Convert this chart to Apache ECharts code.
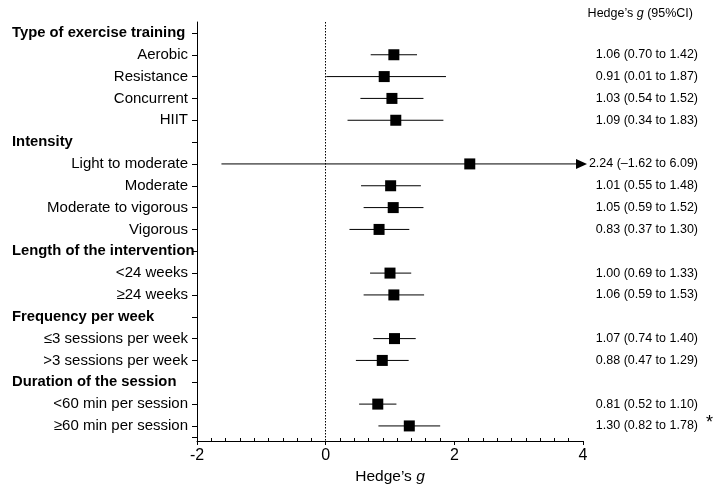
<!DOCTYPE html>
<html>
<head>
<meta charset="utf-8">
<script src="https://cdn.jsdelivr.net/npm/echarts@6/dist/echarts.min.js"></script>
<style>html,body{margin:0;padding:0;background:#fff}#c{width:714px;height:484px}</style>
</head>
<body>
<div id="c"></div>
<script>
// ---- data ----
var rowLabels = ['Type of exercise training','Aerobic','Resistance','Concurrent','HIIT',
  'Intensity','Light to moderate','Moderate','Moderate to vigorous','Vigorous',
  'Length of the intervention','<24 weeks','\u226524 weeks',
  'Frequency per week','\u22643 sessions per week','>3 sessions per week',
  'Duration of the session','<60 min per session','\u226560 min per session'];
var isHeader = [1,0,0,0,0, 1,0,0,0,0, 1,0,0, 1,0,0, 1,0,0];
var estimate = [null,1.06,0.91,1.03,1.09, null,2.24,1.01,1.05,0.83, null,1.00,1.06, null,1.07,0.88, null,0.81,1.30];
var lower    = [null,0.70,0.01,0.54,0.34, null,-1.62,0.55,0.59,0.37, null,0.69,0.59, null,0.74,0.47, null,0.52,0.82];
var upper    = [null,1.42,1.87,1.52,1.83, null,6.09,1.48,1.52,1.30, null,1.33,1.53, null,1.40,1.29, null,1.10,1.78];
var xTicks = [-2, 0, 2, 4];
var significant = [0,0,0,0,0, 0,0,0,0,0, 0,0,0, 0,0,0, 0,0,1];

var FONT = '"Liberation Sans", Arial, sans-serif';
function fmt(v){ var s = Math.abs(v).toFixed(2); return (v < 0 ? '\u2013' : '') + s; }

var rowIdx = rowLabels.map(function(_, i){ return i; });
var tickIdx = rowIdx.concat([rowIdx.length - 0.5]);
var ciText = rowLabels.map(function(_, i){
  return estimate[i] == null ? '' : fmt(estimate[i]) + ' (' + fmt(lower[i]) + ' to ' + fmt(upper[i]) + ')';
});
var seriesData = [];
for (var i = 0; i < rowLabels.length; i++) {
  if (estimate[i] != null) seriesData.push([i, estimate[i], lower[i], upper[i]]);
}
var xMin = xTicks[0], xMax = xTicks[xTicks.length - 1];

var chart = echarts.init(document.getElementById('c'), null, {renderer: 'canvas'});
var option = {
  animation: false,
  backgroundColor: '#fff',
  textStyle: {fontFamily: FONT, color: '#000'},
  title: {
    text: '{a|Hedge\u2019s }{i|g}{a| (95%CI)}',
    right: 16, top: 2,
    textStyle: {fontWeight: 'normal', rich: {
      a: {fontFamily: FONT, fontSize: 12.5, color: '#000', fontWeight: 'normal'},
      i: {fontFamily: FONT, fontSize: 12.5, color: '#000', fontStyle: 'italic', fontWeight: 'normal'}
    }}
  },
  grid: {left: 197, right: 131, top: 22, bottom: 43, containLabel: false, outerBoundsMode: 'none'},
  xAxis: [{
    type: 'value', min: xMin, max: xMax, interval: 2,
    axisLine: {onZero: false, lineStyle: {color: '#000', width: 1}},
    axisTick: {show: true, length: 4, lineStyle: {color: '#000'}},
    axisLabel: {fontFamily: FONT, fontSize: 16, color: '#000', margin: 7},
    splitLine: {show: false},
    name: '{a|Hedge\u2019s }{i|g}',
    nameLocation: 'middle', nameGap: 20,
    nameTextStyle: {rich: {
      a: {fontFamily: FONT, fontSize: 15.5, color: '#000'},
      i: {fontFamily: FONT, fontSize: 15.5, color: '#000', fontStyle: 'italic'}
    }}
  }, {
    type: 'value', min: xMin, max: xMax, interval: 2, position: 'bottom',
    axisLine: {show: false, onZero: false},
    axisTick: {show: false, inside: true},
    minorTick: {show: true, splitNumber: 9, length: 3, lineStyle: {color: '#000'}},
    axisLabel: {show: false},
    splitLine: {show: false}
  }],
  yAxis: [{
    type: 'value', inverse: true, min: -0.5, max: 18.69,
    axisLine: {show: true, onZero: false, lineStyle: {color: '#000'}},
    axisTick: {show: true, length: 5, customValues: tickIdx, lineStyle: {color: '#000'}},
    splitLine: {show: false},
    axisLabel: {
      customValues: rowIdx, margin: 9,
      formatter: function(v){
        var i = Math.round(v);
        return isHeader[i] ? '{h|' + rowLabels[i] + '}' : '{n|' + rowLabels[i] + '}';
      },
      rich: {
        h: {fontFamily: FONT, fontSize: 14.8, fontWeight: 'bold', color: '#000', width: 176, align: 'left'},
        n: {fontFamily: FONT, fontSize: 15, color: '#000'}
      }
    }
  }, {
    type: 'value', inverse: true, min: -0.5, max: 18.69, position: 'right',
    axisLine: {show: false, onZero: false},
    axisTick: {show: false},
    splitLine: {show: false},
    axisLabel: {
      customValues: rowIdx, margin: 115, align: 'right',
      fontFamily: FONT, fontSize: 12.5, color: '#000',
      formatter: function(v){ return ciText[Math.round(v)]; }
    }
  }],
  series: [{
    type: 'custom',
    clip: false,
    data: seriesData,
    encode: {x: [1, 2, 3], y: 0},
    renderItem: function(params, api){
      var row = api.value(0), est = api.value(1), lo = api.value(2), hi = api.value(3);
      var c = api.coord([est, row]);
      var pLo = api.coord([Math.max(lo, xMin), row]);
      var clipped = hi > xMax;
      var pHi = api.coord([Math.min(hi, xMax), row]);
      var children = [];
      var arrowLen = 11;
      var endX = clipped ? pHi[0] + 4 - arrowLen : pHi[0];
      children.push({type: 'line', shape: {x1: pLo[0], y1: pLo[1], x2: endX, y2: pHi[1]},
        style: {stroke: '#000', lineWidth: 1}});
      if (clipped) {
        var tip = pHi[0] + 4;
        children.push({type: 'polygon', shape: {points: [[tip, pHi[1]], [tip - arrowLen, pHi[1] - 5], [tip - arrowLen, pHi[1] + 5]]},
          style: {fill: '#000'}});
      }
      var s = 11;
      children.push({type: 'rect', shape: {x: c[0] - s / 2, y: c[1] - s / 2, width: s, height: s},
        style: {fill: '#000'}});
      return {type: 'group', children: children};
    },
    markLine: {
      silent: true, symbol: ['none', 'none'],
      label: {show: false},
      lineStyle: {color: '#000', type: [1.5, 1.5], width: 1},
      data: [{xAxis: 0}]
    }
  }]
};
chart.setOption(option);

// significance marker next to the flagged row
var gfx = [];
for (var k = 0; k < significant.length; k++) {
  if (significant[k]) {
    var p = chart.convertToPixel({yAxisIndex: 0}, k);
    gfx.push({type: 'text', right: 1, top: p - 12,
      style: {text: '*', font: '18px ' + FONT, fill: '#000'}});
  }
}
chart.setOption({graphic: gfx});
</script>
</body>
</html>
